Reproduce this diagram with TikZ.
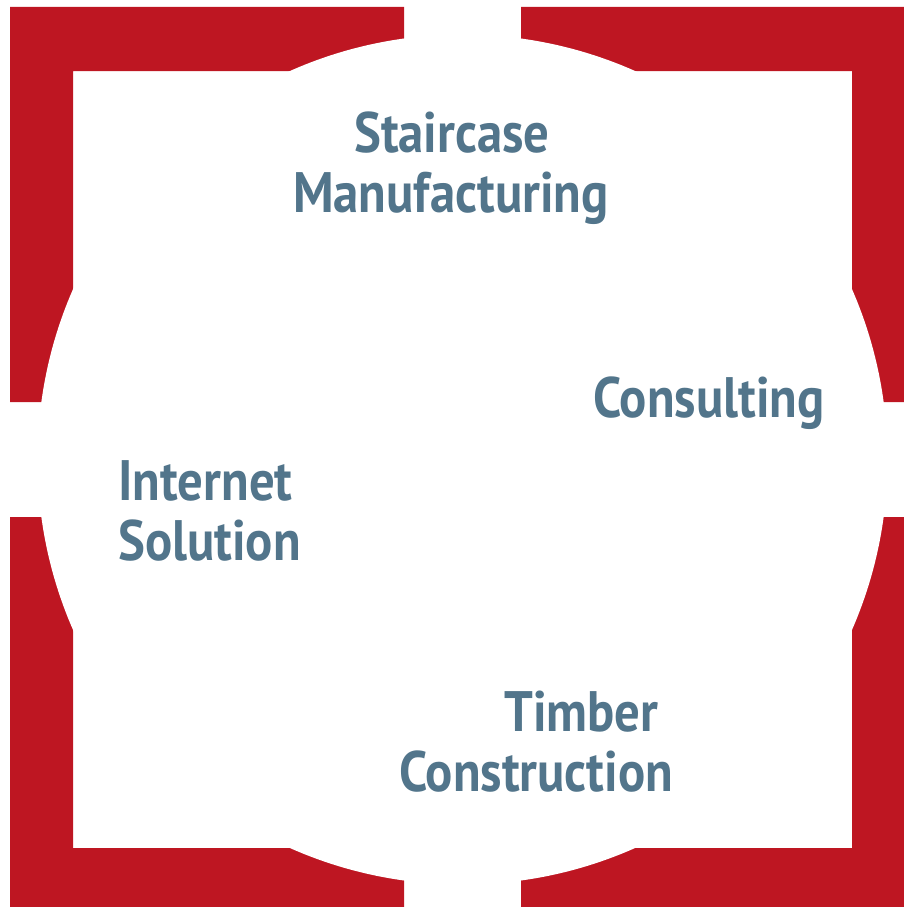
\documentclass[tikz,border=0pt]{standalone}
\usepackage{fontspec}
\setmainfont{PT Sans}[FakeStretch=0.89]
\definecolor{bracketred}{HTML}{BE1622}
\definecolor{labelblue}{HTML}{52758B}
\begin{document}
\begin{tikzpicture}[x=1pt,y=-1pt,
  lbl/.style={anchor=base west,inner sep=0pt,text=labelblue,font=\fontsize{57}{60}\selectfont\bfseries}]
\useasboundingbox (0,0) rectangle (904,907);
\begin{scope}
\clip (0,0) rectangle (904,907);
% brackets
\fill[bracketred] (10,7) -- (404,7) -- (404,71) -- (73,71) -- (73,402) -- (10,402) -- cycle;
\fill[bracketred] (915,7) -- (521,7) -- (521,71) -- (852,71) -- (852,402) -- (915,402) -- cycle;
\fill[bracketred] (10,912) -- (404,912) -- (404,848) -- (73,848) -- (73,517) -- (10,517) -- cycle;
\fill[bracketred] (915,912) -- (521,912) -- (521,848) -- (852,848) -- (852,517) -- (915,517) -- cycle;
% white disc
\fill[white] (462.5,459.5) circle[radius=425];
\end{scope}
\node[lbl] (s1) at (354,152) {Staircase};
\node[lbl] (s2) at (293,212) {Manufacturing};
\node[lbl] (c1) at (593,417) {Consulting};
\node[lbl] (i1) at (118,500) {Internet};
\node[lbl] (i2) at (118,560) {Solution};
\node[lbl] (t1) at (504,731) {Timber};
\node[lbl] (t2) at (399,791) {Construction};
\end{tikzpicture}
\end{document}
